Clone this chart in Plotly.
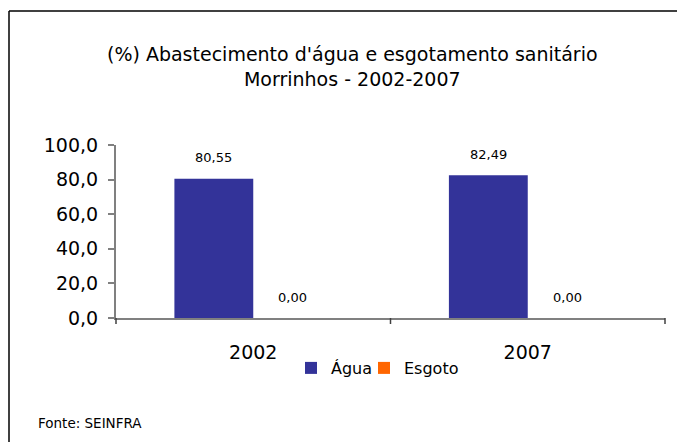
import plotly.graph_objects as go

categories = ["2002", "2007"]
agua = [80.55, 82.49]
esgoto = [0.00, 0.00]
series_names = ["Água", "Esgoto"]
series_colors = ["#333399", "#FF6600"]
y_ticks = [0, 20, 40, 60, 80, 100]

OFF = 8  # page body margin
W, H = 685 - OFF, 442 - OFF
L, R, T, B = 116 - OFF, 20, 145 - OFF, 124
pw, ph = W - L - R, H - T - B

def px(xr):  # reference pixel x -> paper x
    return (xr - OFF - L) / pw

def py(yr):  # reference pixel y -> paper y
    return (T + ph - (yr - OFF)) / ph

FONT = "DejaVu Sans, Liberation Sans, Arial, sans-serif"

legend_ids = ["legend", "legend2"]
legend_centers = [334.5, 414]

fig = go.Figure()
for name, vals, col, lg in zip(series_names, [agua, esgoto], series_colors, legend_ids):
    fig.add_trace(go.Bar(x=categories, y=vals, name=name, marker_color=col,
                         marker_line_width=0, legend=lg))

def fmt(v):
    return f"{v:.2f}".replace(".", ",")

ann = []
for vals, shift in zip([agua, esgoto], [-39.5, 39.5]):
    for i, v in enumerate(vals):
        ann.append(dict(x=i, y=v, xref="x", yref="y", text=fmt(v), showarrow=False,
                        xshift=shift, yshift=21, yanchor="middle",
                        font=dict(family=FONT, size=13, color="black")))

ann.append(dict(x=px(36), y=py(423), xref="paper", yref="paper",
                text="Fonte: SEINFRA", showarrow=False, xanchor="left", yanchor="middle",
                font=dict(family=FONT, size=13.5, color="black")))

ann.append(dict(x=px(352), y=py(66), xref="paper", yref="paper",
                text="(%) Abastecimento d'água e esgotamento sanitário<br>Morrinhos - 2002-2007",
                showarrow=False, xanchor="center", yanchor="middle",
                font=dict(family=FONT, size=19, color="black")))

shapes = [
    dict(type="line", xref="paper", yref="paper",
         x0=px(9), x1=px(700), y0=py(11), y1=py(11),
         line=dict(color="black", width=1.5)),
    dict(type="line", xref="paper", yref="paper",
         x0=px(9), x1=px(9), y0=py(11), y1=py(460),
         line=dict(color="black", width=1.5)),
]
# category boundary ticks on x-axis
for i in range(len(categories) + 1):
    xp = i / len(categories)
    shapes.append(dict(type="line", xref="paper", yref="paper", x0=xp, x1=xp,
                       y0=0, y1=-6 / ph, line=dict(color="#404040", width=1.5)))

legend_style = dict(orientation="h", xanchor="center", y=py(368), yanchor="middle",
                    font=dict(family=FONT, size=16, color="black"),
                    itemwidth=30, tracegroupgap=0, bgcolor="rgba(0,0,0,0)")

fig.update_layout(
    width=W, height=H,
    margin=dict(l=L, r=R, t=T, b=B, autoexpand=False),
    paper_bgcolor="white", plot_bgcolor="white",
    separators=",.",
    barmode="group", bargap=0.4255, bargroupgap=0,
    showlegend=True,
    legend=dict(x=px(legend_centers[0]), **legend_style),
    legend2=dict(x=px(legend_centers[1]), **legend_style),
    annotations=ann,
    shapes=shapes,
    font=dict(family=FONT, color="black"),
)
fig.update_xaxes(type="category", range=[-0.5, len(categories) - 0.5], autorange=False,
                 showline=True, linecolor="#808080", linewidth=2,
                 ticks="", showgrid=False, automargin=False, ticklabelstandoff=16,
                 tickfont=dict(family=FONT, size=19, color="black"))
fig.update_yaxes(range=[0, 100], autorange=False, tickvals=y_ticks, tickformat=".1f",
                 showline=True, linecolor="#808080", linewidth=2,
                 ticks="outside", ticklen=6, tickcolor="#808080", tickwidth=2,
                 showgrid=False, zeroline=False, automargin=False, ticklabelstandoff=6,
                 tickfont=dict(family=FONT, size=19, color="black"))

fig.write_html("out.html")
